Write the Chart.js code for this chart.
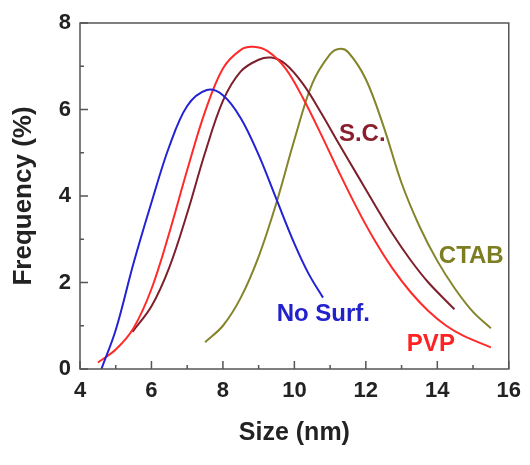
<!DOCTYPE html>
<html>
<head>
<meta charset="utf-8">
<script src="https://cdn.jsdelivr.net/npm/chart.js@4.4.0/dist/chart.umd.min.js"></script>
<style>
  html, body { margin: 0; padding: 0; background: #fff; }
</style>
</head>
<body>
<canvas id="sizeChart" width="530" height="465"></canvas>
<script>
// Hodnoty
const noSurfX = [4.6, 5.0, 5.5, 6.0, 6.5, 7.0, 7.55, 8.0, 8.5, 9.0, 9.5, 10.0, 10.4, 10.8];
const noSurfY = [0.0, 0.9, 2.45, 3.85, 5.15, 6.08, 6.45, 6.33, 5.8, 4.95, 3.92, 2.9, 2.2, 1.65];

const pvpX = [4.5, 5.0, 5.5, 6.0, 6.5, 7.0, 7.5, 8.0, 8.5, 8.85, 9.25, 9.75, 10.25, 10.75, 11.25, 11.75, 12.25, 12.75, 13.25, 13.75, 14.25, 14.75, 15.5];
const pvpY = [0.15, 0.45, 0.95, 1.85, 3.15, 4.6, 5.95, 6.95, 7.38, 7.45, 7.35, 6.95, 6.25, 5.42, 4.55, 3.72, 2.97, 2.32, 1.78, 1.34, 1.0, 0.76, 0.5];

const scX = [5.47, 6.0, 6.5, 7.0, 7.5, 8.0, 8.5, 9.0, 9.35, 9.75, 10.25, 10.75, 11.25, 11.75, 12.25, 12.75, 13.25, 13.75, 14.48];
const scY = [0.86, 1.45, 2.35, 3.6, 5.0, 6.2, 6.88, 7.15, 7.2, 7.05, 6.58, 5.92, 5.2, 4.5, 3.8, 3.12, 2.52, 2.0, 1.38];

const ctabX = [7.5, 8.0, 8.5, 9.0, 9.5, 10.0, 10.5, 11.0, 11.25, 11.5, 12.0, 12.5, 13.0, 13.5, 14.0, 14.5, 15.0, 15.5];
const ctabY = [0.62, 1.0, 1.65, 2.6, 3.85, 5.3, 6.6, 7.28, 7.4, 7.33, 6.7, 5.6, 4.3, 3.3, 2.5, 1.85, 1.32, 0.94];

const xRange = [4, 16];
const yRange = [0, 8];

// Popisky křivek (v jednotkách os)
const curveLabels = [
    { text: 'S.C.', x: 11.9, y: 5.43, color: '#8a1f2e' },
    { text: 'CTAB', x: 14.95, y: 2.61, color: '#7d7d22' },
    { text: 'No Surf.', x: 10.81, y: 1.27, color: '#2222cc' },
    { text: 'PVP', x: 13.82, y: 0.56, color: '#ff2222' }
];

const FONT = '"Liberation Sans", Arial, Helvetica, sans-serif';

function toPoints(xs, ys) {
    return xs.map((x, i) => ({ x: x, y: ys[i] }));
}

function curve(xs, ys, color) {
    return {
        data: toPoints(xs, ys),
        borderColor: color,
        borderWidth: 2,
        pointRadius: 0,
        fill: false,
        tension: 0.35
    };
}

// Rámeček, vnitřní značky os a popisky křivek
const frameAndTicks = {
    id: 'frameAndTicks',
    afterDatasetsDraw(chart) {
        const { ctx, chartArea: a, scales: { x, y } } = chart;
        ctx.save();
        ctx.strokeStyle = '#555';
        ctx.lineWidth = 1.5;
        ctx.strokeRect(a.left, a.top, a.right - a.left, a.bottom - a.top);

        ctx.beginPath();
        for (let v = xRange[0]; v <= xRange[1]; v++) {
            const px = x.getPixelForValue(v);
            const len = v % 2 === 0 ? 8 : 4;
            ctx.moveTo(px, a.bottom);
            ctx.lineTo(px, a.bottom - len);
        }
        for (let v = yRange[0]; v <= yRange[1]; v++) {
            const py = y.getPixelForValue(v);
            const len = v % 2 === 0 ? 8 : 4;
            ctx.moveTo(a.left, py);
            ctx.lineTo(a.left + len, py);
        }
        ctx.stroke();

        ctx.font = 'bold 24px ' + FONT;
        ctx.textAlign = 'center';
        ctx.textBaseline = 'middle';
        curveLabels.forEach(l => {
            ctx.fillStyle = l.color;
            ctx.fillText(l.text, x.getPixelForValue(l.x), y.getPixelForValue(l.y));
        });
        ctx.restore();
    }
};

const ctx = document.getElementById('sizeChart').getContext('2d');

new Chart(ctx, {
    type: 'line',
    data: {
        datasets: [
            curve(noSurfX, noSurfY, '#2323d6'),
            curve(pvpX, pvpY, '#ff2a2a'),
            curve(scX, scY, '#7e1f2c'),
            curve(ctabX, ctabY, '#84842a')
        ]
    },
    options: {
        responsive: false,
        devicePixelRatio: 1,
        animation: false,
        layout: {
            padding: { left: 0, top: 23, right: 15, bottom: 0 }
        },
        plugins: {
            legend: { display: false },
            tooltip: { enabled: false }
        },
        scales: {
            x: {
                type: 'linear',
                min: xRange[0],
                max: xRange[1],
                afterFit: scale => { scale.height = 96; },
                grid: { display: false, drawTicks: false },
                border: { display: false },
                ticks: {
                    stepSize: 2,
                    padding: 9,
                    color: '#222',
                    font: { family: FONT, size: 22, weight: 'bold' }
                },
                title: {
                    display: true,
                    text: 'Size (nm)',
                    color: '#222',
                    padding: { top: 0, bottom: 17 },
                    font: { family: FONT, size: 25, weight: 'bold' }
                }
            },
            y: {
                type: 'linear',
                min: yRange[0],
                max: yRange[1],
                afterFit: scale => { scale.width = 80; },
                grid: { display: false, drawTicks: false },
                border: { display: false },
                ticks: {
                    stepSize: 2,
                    padding: 9,
                    color: '#222',
                    font: { family: FONT, size: 22, weight: 'bold' }
                },
                title: {
                    display: true,
                    text: 'Frequency (%)',
                    color: '#222',
                    padding: { top: 8, bottom: 0 },
                    font: { family: FONT, size: 26, weight: 'bold' }
                }
            }
        }
    },
    plugins: [frameAndTicks]
});
</script>
</body>
</html>
